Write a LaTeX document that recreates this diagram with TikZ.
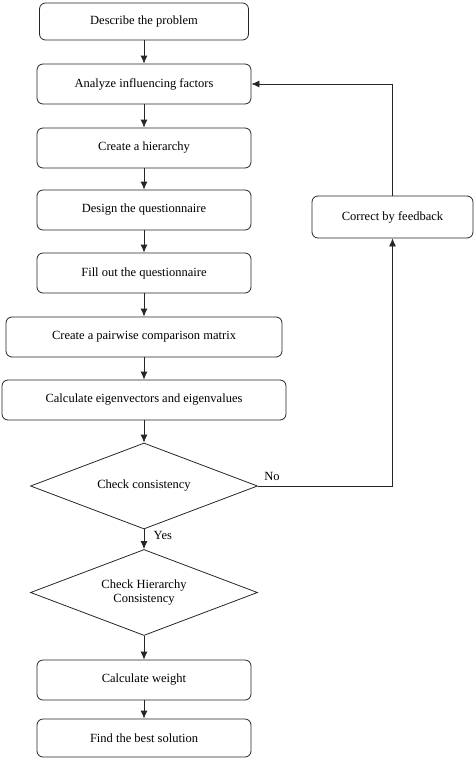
\documentclass[tikz,border=0pt]{standalone}
\usepackage{fontspec}
\setmainfont{Liberation Serif}
\usetikzlibrary{shapes.geometric,arrows.meta}
\tikzset{
  stepbox/.style={draw=black!85,line width=0.8pt,rounded corners=6pt,minimum height=40pt,inner sep=2pt},
  check/.style={draw=black!85,line width=0.8pt,diamond,aspect=2.64,minimum width=227pt,minimum height=86pt,inner sep=0pt,align=center},
  flow/.style={-{Latex[length=8pt,width=7pt]},line width=0.8pt,draw=black!85}
}
\begin{document}
\begin{tikzpicture}[x=1pt,y=-1pt,font=\fontsize{12.5}{14}\selectfont]
  \useasboundingbox (0,0) rectangle (474,758);
  % main chain
  \node[stepbox,minimum width=209pt,minimum height=37pt] (desc) at (144,21.5) {Describe the problem};
  \node[stepbox,minimum width=214pt] (anal) at (144,84) {Analyze influencing factors};
  \node[stepbox,minimum width=214pt] (hier) at (144,148) {Create a hierarchy};
  \node[stepbox,minimum width=214pt] (design) at (144,210) {Design the questionnaire};
  \node[stepbox,minimum width=214pt] (fill) at (144,273) {Fill out the questionnaire};
  \node[stepbox,minimum width=276pt] (pair) at (144,337) {Create a pairwise comparison matrix};
  \node[stepbox,minimum width=284pt] (eigen) at (144,400) {Calculate eigenvectors and eigenvalues};
  \node[check] (cons) at (144,486) {Check consistency};
  \node[check] (hcons) at (144,592.5) {Check Hierarchy\\Consistency};
  \node[stepbox,minimum width=214pt] (weight) at (144,680) {Calculate weight};
  \node[stepbox,minimum width=214pt,minimum height=38pt] (best) at (144,738) {Find the best solution};
  % feedback
  \node[stepbox,minimum width=161pt,minimum height=42pt] (fb) at (392.5,217) {Correct by feedback};

  \draw[flow] (desc) -- (anal);
  \draw[flow] (anal) -- (hier);
  \draw[flow] (hier) -- (design);
  \draw[flow] (design) -- (fill);
  \draw[flow] (fill) -- (pair);
  \draw[flow] (pair) -- (eigen);
  \draw[flow] (eigen) -- (cons);
  \draw[flow] (cons) -- node[right,pos=0.3,xshift=6pt]{Yes} (hcons);
  \draw[flow] (hcons) -- (weight);
  \draw[flow] (weight) -- (best);
  \draw[flow] (cons.east) -- node[above,pos=0.06,xshift=6pt,yshift=2pt]{No} (cons.east -| fb.south) -- (fb.south);
  \draw[flow] (fb.north) -- (fb.north |- anal.east) -- (anal.east);
\end{tikzpicture}
\end{document}
